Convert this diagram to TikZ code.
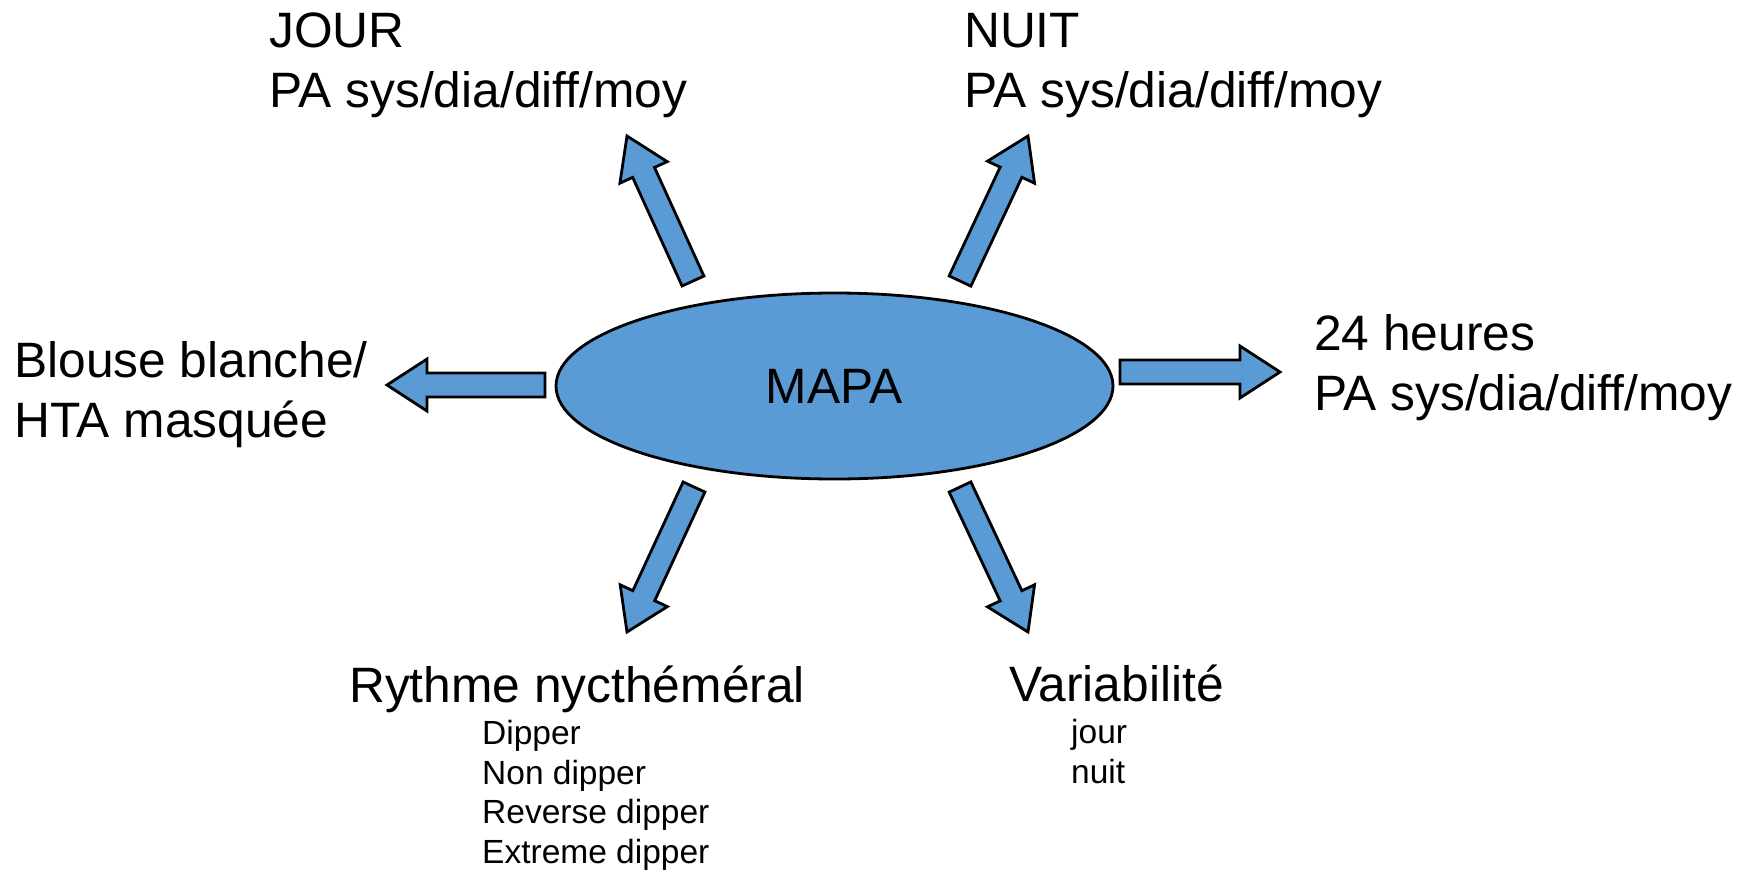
\documentclass[tikz,border=0pt]{standalone}
\usepackage{fontspec}
\setmainfont{Liberation Sans}
\usetikzlibrary{calc,shapes.geometric}
\definecolor{boxblue}{RGB}{91,155,213}
\tikzset{
  bigtxt/.style={font=\fontsize{49.7}{59.5}\selectfont, inner sep=0pt, anchor=base west, align=left},
  smalltxt/.style={font=\fontsize{33.5}{39.5}\selectfont, inner sep=0pt, anchor=base west, align=left},
  barrow/.style={fill=boxblue, draw=black, line width=2.8pt, line join=miter},
  mapastyle/.style={ellipse, fill=boxblue, draw=black, line width=2.8pt,
    minimum width=557pt, minimum height=186pt, inner sep=0pt,
    font=\fontsize{49.7}{58}\selectfont}
}
\newcommand{\blockarr}[2]{%
  \coordinate (neck) at ($(#2)!40pt!(#1)$);
  \draw[barrow] ($(#1)!12pt!90:(#2)$) -- ($(neck)!12pt!90:(#2)$) -- ($(neck)!26pt!90:(#2)$) -- (#2)
    -- ($(neck)!26pt!-90:(#2)$) -- ($(neck)!12pt!-90:(#2)$) -- ($(#1)!12pt!-90:(#2)$) -- cycle;}
\begin{document}
\begin{tikzpicture}[x=1pt,y=-1pt]
\useasboundingbox (0,0) rectangle (1747,871);
\node[mapastyle] (mapa) at (834.5,386) {MAPA};

\coordinate (ulT) at (693,281); \coordinate (ulH) at (627,136);
\coordinate (urT) at (960,281); \coordinate (urH) at (1028,136);
\coordinate (llT) at (694,487); \coordinate (llH) at (627,632);
\coordinate (lrT) at (960,487); \coordinate (lrH) at (1028,632);
\coordinate (lT) at (545,385); \coordinate (lH) at (387,385);
\coordinate (rT) at (1120,372); \coordinate (rH) at (1280,372);
\blockarr{ulT}{ulH}
\blockarr{urT}{urH}
\blockarr{llT}{llH}
\blockarr{lrT}{lrH}
\blockarr{lT}{lH}
\blockarr{rT}{rH}

% multi-line nodes: base anchor is the baseline of the last line
\node[bigtxt] (jour) at (269,107) {JOUR\\PA sys/dia/diff/moy};
\node[bigtxt] (nuit) at (964,107) {NUIT\\PA sys/dia/diff/moy};
\node[bigtxt] (h24) at (1314,410) {24 heures\\PA sys/dia/diff/moy};
\node[bigtxt] (blouse) at (14,437) {Blouse blanche/\\HTA masquée};
\node[bigtxt] (rythme) at (349,702) {Rythme nycthéméral};
\node[bigtxt] (variab) at (1009,701) {Variabilité};
\node[smalltxt] (dips) at (482,863) {Dipper\\Non dipper\\Reverse dipper\\Extreme dipper};
\node[smalltxt] (jn) at (1071,783) {jour\\nuit};
\end{tikzpicture}
\end{document}
